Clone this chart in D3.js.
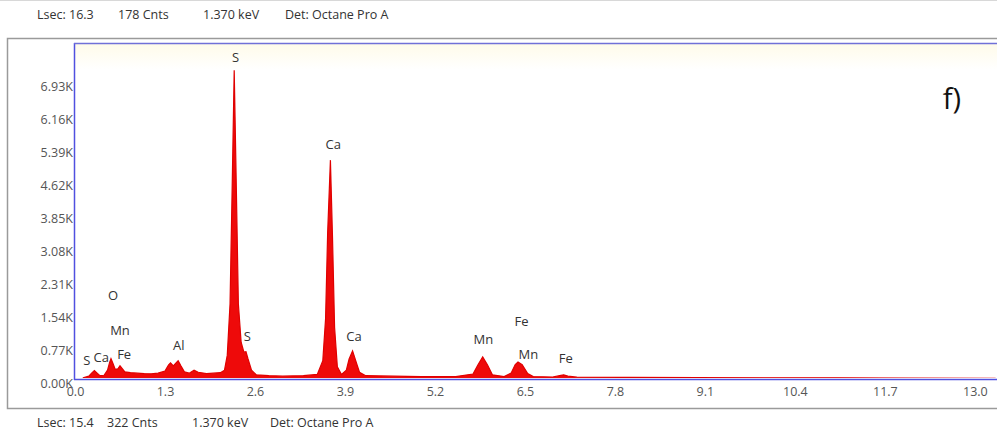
<!DOCTYPE html>
<html>
<head>
<meta charset="utf-8">
<script src="https://cdn.jsdelivr.net/npm/d3@7"></script>
<style>
html,body{margin:0;padding:0;background:#fff;}
svg{display:block;}
</style>
</head>
<body>
<svg id="chart" width="997" height="433"></svg>
<script>
// ---- data ----
const energyKeV = [0.08,0.12,0.20,0.24,0.28,0.32,0.36,0.42,0.47,0.50,0.52,0.55,0.58,0.62,0.65,0.68,0.72,0.80,0.90,1.00,1.10,1.20,1.30,1.35,1.38,1.42,1.46,1.49,1.53,1.58,1.65,1.72,1.78,1.90,2.00,2.10,2.16,2.20,2.24,2.27,2.30,2.33,2.36,2.40,2.44,2.47,2.50,2.55,2.62,2.80,3.00,3.30,3.50,3.58,3.62,3.65,3.69,3.72,3.75,3.79,3.85,3.92,3.96,4.01,4.06,4.11,4.20,4.60,5.00,5.50,5.75,5.82,5.89,5.96,6.03,6.20,6.30,6.36,6.40,6.46,6.54,6.62,6.90,7.00,7.06,7.12,7.25,8.00,9.00,10.00,11.00,12.00,13.30];
const counts    = [0,120,160,230,290,230,170,180,300,480,570,450,320,330,400,340,260,240,230,220,215,230,280,420,470,400,470,520,400,260,230,300,250,220,230,240,300,650,1850,4500,7300,4600,1850,950,720,730,560,300,190,170,160,170,200,520,1500,3500,5200,3400,1300,380,200,300,560,750,500,250,170,160,150,150,210,420,610,420,190,150,230,430,490,430,220,150,140,170,190,160,135,130,125,120,120,115,110];

const xTicks = [0.0,1.3,2.6,3.9,5.2,6.5,7.8,9.1,10.4,11.7,13.0];
const yTicks = [0,770,1540,2310,3080,3850,4620,5390,6160,6930];
const yTickLabels = ["0.00K","0.77K","1.54K","2.31K","3.08K","3.85K","4.62K","5.39K","6.16K","6.93K"];

const peakLabels = ["S","S","S","Ca","Ca","Ca","O","Mn","Fe","Al","Mn","Fe","Mn","Fe"];
const peakLabelKeV = [2.32,0.17,2.49,3.73,4.03,0.38,0.55,0.65,0.71,1.50,5.90,6.45,6.55,7.09];
const peakLabelCounts = [7580,500,1050,5530,1070,580,2010,1210,650,860,980,1420,650,540];

const headerTop = ["Lsec: 16.3","178 Cnts","1.370 keV","Det: Octane Pro A"];
const headerBottom = ["Lsec: 15.4","322 Cnts","1.370 keV","Det: Octane Pro A"];
const panelLabel = "f)";

// ---- layout ----
const svg = d3.select("#chart");
const font = "'Open Sans', 'DejaVu Sans', sans-serif";
const plot = {left:74, top:43, right:997, bottom:379};

const x = d3.scaleLinear().domain([0, 13.32]).range([75, 997]);
const y = d3.scaleLinear().domain([0, 6930]).range([383, 86]);

// defs
const defs = svg.append("defs");
const grad = defs.append("linearGradient").attr("id","bg").attr("x1",0).attr("y1",0).attr("x2",0).attr("y2",1);
grad.append("stop").attr("offset","0%").attr("stop-color","#fffbe9");
grad.append("stop").attr("offset","8%").attr("stop-color","#ffffff");
grad.append("stop").attr("offset","100%").attr("stop-color","#ffffff");
defs.append("clipPath").attr("id","clip").append("rect")
  .attr("x",plot.left+1).attr("y",plot.top).attr("width",plot.right-plot.left).attr("height",plot.bottom-plot.top-1);

// top faint line
svg.append("line").attr("x1",0).attr("x2",997).attr("y1",0.5).attr("y2",0.5).attr("stroke","#d8d8d8");

// header texts
const hx = [37,118,203,285];
svg.selectAll("text.htop").data(headerTop).join("text")
  .attr("x",(d,i)=>hx[i]).attr("y",19).attr("font-family",font).attr("font-size",12.5).attr("fill","#333").text(d=>d);
const fx = [37,107,192,270];
svg.selectAll("text.hbot").data(headerBottom).join("text")
  .attr("x",(d,i)=>fx[i]).attr("y",427).attr("font-family",font).attr("font-size",12.5).attr("fill","#333").text(d=>d);

// outer panel
svg.append("rect").attr("x",7.5).attr("y",38.5).attr("width",995).attr("height",370)
  .attr("fill","#fff").attr("stroke","#9a9a9a").attr("stroke-width",1.5);

// plot background
svg.append("rect").attr("x",plot.left).attr("y",plot.top).attr("width",plot.right-plot.left).attr("height",plot.bottom-plot.top)
  .attr("fill","url(#bg)");

// spectrum
const pts = energyKeV.map((e,i)=>[e,counts[i]]);
const area = d3.area().x(d=>x(d[0])).y0(y(0)).y1(d=>y(d[1]));
const line = d3.line().x(d=>x(d[0])).y(d=>y(d[1]));
const g = svg.append("g").attr("clip-path","url(#clip)");
g.append("path").datum(pts).attr("d",area).attr("fill","#ee0a0a");
g.append("path").datum(pts).attr("d",line).attr("fill","none").attr("stroke","#e00000").attr("stroke-width",1.2);

// plot border (blue)
svg.append("line").attr("x1",plot.left+0.5).attr("x2",plot.left+0.5).attr("y1",plot.top).attr("y2",plot.bottom+1)
  .attr("stroke","#5050e0").attr("stroke-width",1.5);
svg.append("line").attr("x1",plot.left).attr("x2",997).attr("y1",plot.top+0.5).attr("y2",plot.top+0.5)
  .attr("stroke","#7070d8").attr("stroke-width",1.5);
svg.append("line").attr("x1",plot.left).attr("x2",997).attr("y1",plot.bottom+0.5).attr("y2",plot.bottom+0.5)
  .attr("stroke","#5050e0").attr("stroke-width",1.5);

// x axis labels
const xAxis = d3.axisBottom(x).tickValues(xTicks).tickFormat(d3.format(".1f")).tickSize(0).tickPadding(0);
const xa = svg.append("g").attr("transform",`translate(0,${plot.bottom+8})`).call(xAxis);
xa.select(".domain").remove();
xa.selectAll("text").attr("font-family",font).attr("font-size",12.5).attr("fill","#555").attr("dy","0.71em");

// y axis labels
const yAxis = d3.axisLeft(y).tickValues(yTicks).tickFormat((d,i)=>yTickLabels[i]).tickSize(0).tickPadding(1);
const ya = svg.append("g").attr("transform",`translate(${plot.left},0)`).call(yAxis);
ya.select(".domain").remove();
ya.selectAll("text").attr("font-family",font).attr("font-size",12.5).attr("fill","#555");

// peak labels
svg.selectAll("text.pk").data(peakLabels).join("text")
  .attr("x",(d,i)=>x(peakLabelKeV[i])).attr("y",(d,i)=>y(peakLabelCounts[i]))
  .attr("text-anchor","middle").attr("dominant-baseline","middle")
  .attr("font-family",font).attr("font-size",13).attr("fill","#333").text(d=>d);

// panel label
svg.append("text").attr("x",952).attr("y",109).attr("text-anchor","middle")
  .attr("font-family",font).attr("font-size",29).attr("fill","#111").text(panelLabel);
</script>
</body>
</html>
